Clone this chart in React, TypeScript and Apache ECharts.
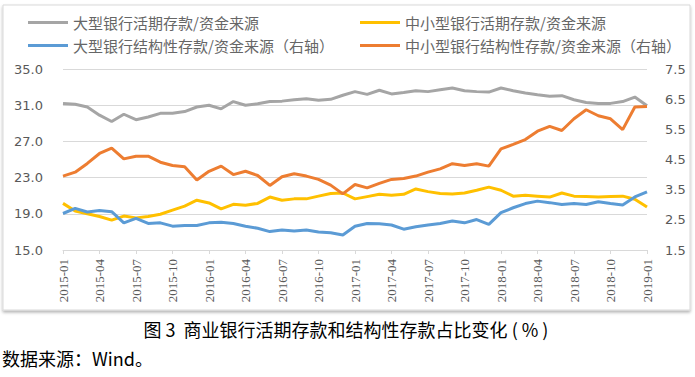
import React, { useEffect, useRef } from "react";
import * as echarts from "echarts";

const categories = [
  "2015-01","2015-02","2015-03","2015-04","2015-05","2015-06","2015-07","2015-08","2015-09","2015-10","2015-11","2015-12",
  "2016-01","2016-02","2016-03","2016-04","2016-05","2016-06","2016-07","2016-08","2016-09","2016-10","2016-11","2016-12",
  "2017-01","2017-02","2017-03","2017-04","2017-05","2017-06","2017-07","2017-08","2017-09","2017-10","2017-11","2017-12",
  "2018-01","2018-02","2018-03","2018-04","2018-05","2018-06","2018-07","2018-08","2018-09","2018-10","2018-11","2018-12",
  "2019-01",
];

const nameLargeDemand = "大型银行活期存款/资金来源";
const nameSmallDemand = "中小型银行活期存款/资金来源";
const nameLargeStruct = "大型银行结构性存款/资金来源（右轴）";
const nameSmallStruct = "中小型银行结构性存款/资金来源（右轴）";

// left axis (%)
const largeDemand = [
  31.2, 31.1, 30.8, 29.9, 29.2, 30.0, 29.4, 29.7, 30.1, 30.1, 30.3, 30.8,
  31.0, 30.6, 31.4, 31.0, 31.15, 31.4, 31.45, 31.6, 31.7, 31.55, 31.65, 32.1,
  32.5, 32.2, 32.65, 32.25, 32.4, 32.6, 32.5, 32.7, 32.9, 32.6, 32.5, 32.45,
  32.9, 32.6, 32.35, 32.15, 32.0, 32.05, 31.6, 31.3, 31.2, 31.2, 31.4, 31.9,
  30.95,
];
const smallDemand = [
  20.15, 19.3, 19.0, 18.7, 18.3, 18.75, 18.55, 18.7, 18.95, 19.4, 19.85, 20.5,
  20.2, 19.55, 20.05, 19.95, 20.15, 20.85, 20.5, 20.65, 20.65, 20.95, 21.25, 21.3,
  20.65, 20.9, 21.15, 21.05, 21.15, 21.75, 21.45, 21.25, 21.2, 21.3, 21.6, 21.95,
  21.6, 20.95, 21.05, 20.95, 20.85, 21.3, 20.95, 20.9, 20.85, 20.9, 20.95, 20.6,
  19.75,
];
// right axis (%)
const largeStruct = [
  2.71, 2.88, 2.76, 2.81, 2.77, 2.4, 2.55, 2.38, 2.4, 2.29, 2.31, 2.31,
  2.4, 2.42, 2.38, 2.29, 2.22, 2.11, 2.16, 2.13, 2.16, 2.1, 2.07, 2.0,
  2.29, 2.38, 2.37, 2.33, 2.19, 2.27, 2.33, 2.38, 2.46, 2.4, 2.51, 2.35,
  2.74, 2.9, 3.04, 3.12, 3.07, 3.01, 3.04, 3.01, 3.1, 3.04, 2.99, 3.26,
  3.43,
];
const smallStruct = [
  3.95, 4.08, 4.37, 4.7, 4.88, 4.52, 4.61, 4.61, 4.41, 4.3, 4.26, 3.82,
  4.11, 4.28, 4.0, 4.11, 3.97, 3.64, 3.93, 4.03, 3.95, 3.84, 3.65, 3.36,
  3.67, 3.56, 3.71, 3.84, 3.87, 3.95, 4.08, 4.19, 4.36, 4.3, 4.36, 4.28,
  4.85, 5.0, 5.16, 5.44, 5.6, 5.46, 5.85, 6.15, 5.95, 5.85, 5.49, 6.24,
  6.26,
];

const titleText = "图 3  商业银行活期存款和结构性存款占比变化 ( % )";
const sourceText = "数据来源：Wind。";

const GRAY = "#a5a5a5";
const YELLOW = "#ffc000";
const BLUE = "#5b9bd5";
const ORANGE = "#ed7d31";
const TEXT = "#595959";
const GRID = "#d9d9d9";

export default function App() {
  const ref = useRef<HTMLDivElement>(null);

  useEffect(() => {
    if (!ref.current) return;
    const chart = echarts.init(ref.current, undefined, { renderer: "svg" });
    const legendBase = {
      icon: "rect",
      itemWidth: 40,
      itemHeight: 3,
      padding: 0,
      textStyle: { fontSize: 15, color: "#666666", fontFamily: "Noto Sans CJK SC" },
      selectedMode: false,
    };
    const lineSeries = (name: string, data: number[], color: string, yAxisIndex: number) => ({
      name,
      type: "line",
      data,
      yAxisIndex,
      symbol: "none",
      lineStyle: { width: 3, color },
      itemStyle: { color },
      z: 3,
    });
    chart.setOption({
      animation: false,
      backgroundColor: "#ffffff",
      graphic: [
        {
          type: "rect",
          z: -10,
          silent: true,
          shape: { x: 3, y: 5, width: 687, height: 305 },
          style: {
            fill: "#ffffff",
            stroke: GRID,
            lineWidth: 1,
            shadowColor: "rgba(0,0,0,0.3)",
            shadowBlur: 3,
            shadowOffsetY: 2,
          },
        },
        {
          type: "text",
          x: 346,
          y: 329,
          style: {
            text: titleText,
            fill: "#000000",
            fontSize: 18,
            fontFamily: "Noto Sans CJK SC",
            align: "center",
            verticalAlign: "middle",
          },
        },
        {
          type: "text",
          x: 2,
          y: 358,
          style: {
            text: sourceText,
            fill: "#000000",
            fontSize: 18,
            fontFamily: "Noto Sans CJK SC",
            align: "left",
            verticalAlign: "middle",
          },
        },
      ],
      legend: [
        { ...legendBase, data: [nameLargeDemand], left: 28, top: 15 },
        { ...legendBase, data: [nameSmallDemand], left: 360, top: 15 },
        { ...legendBase, data: [nameLargeStruct], left: 28, top: 38 },
        { ...legendBase, data: [nameSmallStruct], left: 360, top: 38 },
      ],
      grid: { left: 63, right: 48, top: 69, bottom: 127, containLabel: false },
      xAxis: {
        type: "category",
        data: categories,
        boundaryGap: false,
        axisLine: { show: true, lineStyle: { color: GRID } },
        axisTick: { show: true, interval: 2, length: 4, lineStyle: { color: GRID } },
        axisLabel: {
          interval: 2,
          rotate: 90,
          margin: 9,
          color: TEXT,
          fontSize: 13,
          fontFamily: "'Liberation Serif', 'DejaVu Serif', serif",
        },
        splitLine: { show: false },
      },
      yAxis: [
        {
          type: "value",
          min: 15,
          max: 35,
          interval: 4,
          axisLine: { show: false },
          axisTick: { show: false },
          axisLabel: {
            margin: 20,
            color: TEXT,
            fontSize: 13,
            fontFamily: "DejaVu Sans",
            formatter: (v: number) => v.toFixed(1),
          },
          splitLine: { show: true, lineStyle: { color: GRID, width: 1 } },
        },
        {
          type: "value",
          min: 1.5,
          max: 7.5,
          interval: 1,
          position: "right",
          axisLine: { show: false },
          axisTick: { show: false },
          axisLabel: {
            margin: 18,
            color: TEXT,
            fontSize: 13,
            fontFamily: "DejaVu Sans",
            formatter: (v: number) => v.toFixed(1),
          },
          splitLine: { show: false },
        },
      ],
      series: [
        lineSeries(nameLargeDemand, largeDemand, GRAY, 0),
        lineSeries(nameSmallDemand, smallDemand, YELLOW, 0),
        lineSeries(nameLargeStruct, largeStruct, BLUE, 1),
        lineSeries(nameSmallStruct, smallStruct, ORANGE, 1),
      ],
    });
    return () => chart.dispose();
  }, []);

  return (
    <div
      ref={ref}
      style={{ position: "absolute", left: 0, top: 0, width: 695, height: 377 }}
    />
  );
}
